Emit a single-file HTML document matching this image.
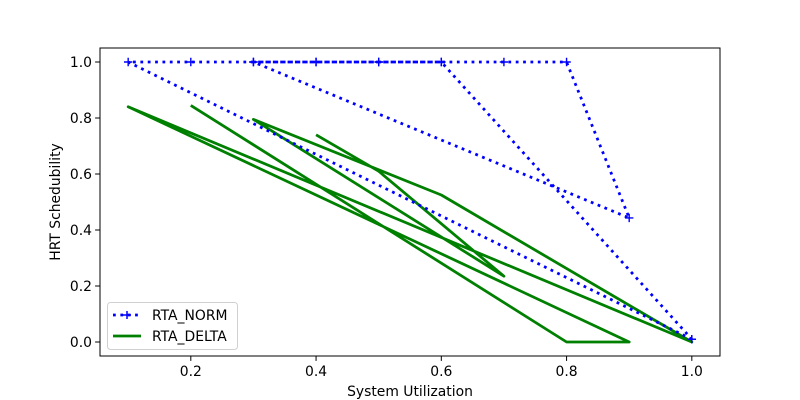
<!DOCTYPE html>
<html><head><meta charset="utf-8"><style>
html,body{margin:0;padding:0;background:#fff;}
svg{display:block;font-family:"DejaVu Sans","Liberation Sans",sans-serif;}
</style></head><body>
<svg id="chart" width="800" height="400" viewBox="0 0 800 400" xmlns="http://www.w3.org/2000/svg">
<rect x="0" y="0" width="800" height="400" fill="#fff"/>
<g id="plot"></g>
<g id="axes"></g>
<text x="410" y="396" font-size="13.9" text-anchor="middle">System Utilization</text>
<text x="0" y="0" font-size="13.9" text-anchor="middle" transform="translate(60,202) rotate(-90)">HRT Schedubility</text>
<g>
<rect x="107.5" y="302.5" width="130" height="47" fill="#fff" stroke="#ccc" stroke-width="1" rx="3" opacity="0.9"/>
<g>
<line x1="113" y1="315" x2="141" y2="315" stroke="blue" stroke-width="2.78" stroke-dasharray="2.78 4.58"/>
<path d="M123 315h8M127 311v8" stroke="blue" stroke-width="1.5"/>
<text x="152" y="320" font-size="13.9">RTA_NORM</text>
</g>
<g>
<line x1="113" y1="336" x2="141" y2="336" stroke="green" stroke-width="2.78"/>
<text x="152" y="341" font-size="13.9">RTA_DELTA</text>
</g>
</g>
</svg>
<script>
const xTicks = [0.2, 0.4, 0.6, 0.8, 1.0];
const xTickLabels = ["0.2", "0.4", "0.6", "0.8", "1.0"];
const yTicks = [0.0, 0.2, 0.4, 0.6, 0.8, 1.0];
const yTickLabels = ["0.0", "0.2", "0.4", "0.6", "0.8", "1.0"];
const normX = [1.0, 0.1, 0.2, 0.3, 0.4, 0.5, 0.6, 0.7, 0.8, 0.9, 0.3, 0.4, 0.5, 0.6, 1.0];
const normY = [0.01, 1, 1, 1, 1, 1, 1, 1, 1, 0.443, 1, 1, 1, 1, 0.01];
const deltaX = [0.4, 0.5, 0.7, 0.3, 0.6, 1.0, 0.1, 0.9, 0.8, 0.2];
const deltaY = [0.74, 0.61, 0.235, 0.795, 0.525, 0.0, 0.84, 0.0, 0.0, 0.845];

const L = 100, R = 720, T = 48, B = 356;
const xMin = 0.055, xMax = 1.045, yMin = -0.05, yMax = 1.05;
function sx(v){ return L + (v - xMin) / (xMax - xMin) * (R - L); }
function sy(v){ return B - (v - yMin) / (yMax - yMin) * (B - T); }
const NS = "http://www.w3.org/2000/svg";
const plot = document.getElementById('plot');
const axes = document.getElementById('axes');
function mk(tag, attrs, parent){
  const e = document.createElementNS(NS, tag);
  for (const k in attrs) e.setAttribute(k, attrs[k]);
  parent.appendChild(e);
  return e;
}
// series
const pd = deltaX.map((x,i)=>(i?'L':'M')+sx(x).toFixed(2)+' '+sy(deltaY[i]).toFixed(2)).join(' ');
const gl = mk('path', {d: pd, fill:'none', stroke:'green', 'stroke-width':'2.78', 'stroke-linejoin':'round'}, plot);


const pn = normX.map((x,i)=>(i?'L':'M')+sx(x).toFixed(2)+' '+sy(normY[i]).toFixed(2)).join(' ');
const bl = mk('path', {d: pn, fill:'none', stroke:'blue', 'stroke-width':'2.78', 'stroke-dasharray':'2.78 4.58'}, plot);


normX.forEach((x,i)=>{
  const cx = sx(x), cy = sy(normY[i]);
  const m = mk('path', {d:`M${cx-4.2} ${cy}h8.4M${cx} ${cy-4.2}v8.4`, stroke:'blue', 'stroke-width':'1.4'}, plot);
  
  
});
// frame
const fr = mk('rect', {x:L, y:T, width:R-L, height:B-T, fill:'none', stroke:'#000', 'stroke-width':'1'}, axes);


xTicks.forEach((v,i)=>{
  const x = sx(v);
  const t = mk('line', {x1:x, y1:B, x2:x, y2:B+4.9, stroke:'#000', 'stroke-width':'1'}, axes);
  
  
  const lb = mk('text', {x:x, y:B+20, 'font-size':'13.9', 'text-anchor':'middle'}, axes);
  lb.textContent = xTickLabels[i];
  
  
});
yTicks.forEach((v,i)=>{
  const y = sy(v);
  const t = mk('line', {x1:L-4.9, y1:y, x2:L, y2:y, stroke:'#000', 'stroke-width':'1'}, axes);
  
  
  const lb = mk('text', {x:L-8, y:y+5, 'font-size':'13.9', 'text-anchor':'end'}, axes);
  lb.textContent = yTickLabels[i];
  
  
});
</script>
</body></html>
